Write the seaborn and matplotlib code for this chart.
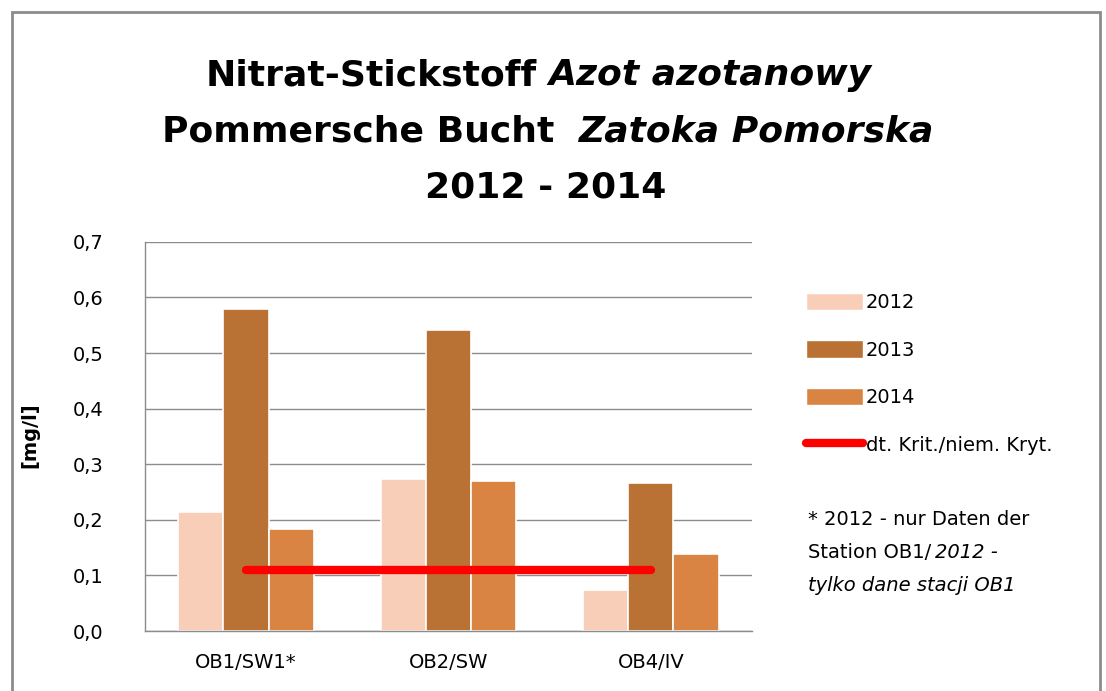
import pandas as pd
import numpy as np
import matplotlib
matplotlib.use("Agg")
import matplotlib.pyplot as plt
from matplotlib.patches import Patch, Rectangle
from matplotlib.lines import Line2D
import seaborn as sns

# data
stations = ["OB1/SW1*", "OB2/SW", "OB4/IV"]
years = ["2012", "2013", "2014"]
val_2012 = [0.214, 0.274, 0.073]
val_2013 = [0.580, 0.542, 0.266]
val_2014 = [0.184, 0.270, 0.138]
criterion = [0.11, 0.11, 0.11]
yticks = [0.0, 0.1, 0.2, 0.3, 0.4, 0.5, 0.6, 0.7]

colors = ["#F9CEB9", "#B97134", "#DA8443"]

df = pd.DataFrame({
    "station": stations * 3,
    "year": [years[0]] * 3 + [years[1]] * 3 + [years[2]] * 3,
    "value": val_2012 + val_2013 + val_2014,
})

sns.set_theme(style="white")
plt.rcParams["font.family"] = ["DejaVu Sans"]
plt.rcParams["text.color"] = "black"

fig = plt.figure(figsize=(11.06, 6.91), dpi=100)
ax = fig.add_axes([0.131, 0.0868, 0.549, 0.5632])

sns.barplot(data=df, x="station", y="value", hue="year", palette=colors,
            saturation=1, width=0.67, edgecolor="white", linewidth=1.2, ax=ax,
            legend=False, zorder=2)

# critical value line across the stations
ax.plot(np.arange(len(stations)), criterion, color="#FF0000", lw=6,
        solid_capstyle="round", zorder=3)

ax.set_ylim(0, 0.7)
ax.set_xlim(-0.5, len(stations) - 0.5)
ax.set_yticks(yticks)
ax.set_yticklabels([f"{t:.1f}".replace(".", ",") for t in yticks])
ax.yaxis.grid(True, color="#8C8C8C", lw=1)
ax.set_axisbelow(True)
ax.tick_params(axis="both", length=0, labelsize=14, colors="black")
ax.tick_params(axis="y", pad=30)
ax.tick_params(axis="x", pad=16)
for s in ["top", "right"]:
    ax.spines[s].set_visible(False)
for s in ["left", "bottom"]:
    ax.spines[s].set_color("#8C8C8C")
    ax.spines[s].set_linewidth(1)
ax.set_xlabel("")
ax.set_ylabel("")

fig.text(0.027, 0.37, "[mg/l]", rotation=90, fontsize=14, fontweight="bold",
         ha="center", va="center")

# title, three lines, mixed upright / italic
tkw = dict(fontsize=26, fontweight="bold", va="center")
fig.text(0.485, 1 - 75 / 691, "Nitrat-Stickstoff", ha="right", **tkw)
fig.text(0.496, 1 - 75 / 691, "Azot azotanowy", ha="left", style="italic", **tkw)
fig.text(0.501, 1 - 131 / 691, "Pommersche Bucht", ha="right", **tkw)
fig.text(0.523, 1 - 131 / 691, "Zatoka Pomorska", ha="left", style="italic", **tkw)
fig.text(0.493, 1 - 187 / 691, "2012 - 2014", ha="center", **tkw)

# legend
handles = [Patch(facecolor=c, edgecolor="white") for c in colors]
handles.append(Line2D([0], [0], color="#FF0000", lw=6, solid_capstyle="round"))
fig.legend(handles, years + ["dt. Krit./niem. Kryt."], loc="upper left",
           bbox_to_anchor=(0.722, 1 - 285 / 691), frameon=False, fontsize=14,
           handlelength=2.9, handleheight=1.0, labelspacing=1.45,
           handletextpad=0.15, borderaxespad=0)

fig.text(0.731, 1 - 510 / 691, "* 2012 - nur Daten der", fontsize=14, va="top")
fig.text(0.731, 1 - 543 / 691, "Station OB1/ ", fontsize=14, va="top")
fig.text(0.845, 1 - 543 / 691, "2012 -", fontsize=14, va="top", style="italic")
fig.text(0.731, 1 - 576 / 691, "tylko dane stacji OB1", fontsize=14, va="top",
         style="italic")

# outer frame of the chart area
fig.patches.append(Rectangle((12 / 1106, -0.05), 1088 / 1106, 1.05 - 12 / 691,
                             transform=fig.transFigure, fill=False,
                             edgecolor="#8C8C8C", lw=2))

fig.savefig("out.png", dpi=100)
